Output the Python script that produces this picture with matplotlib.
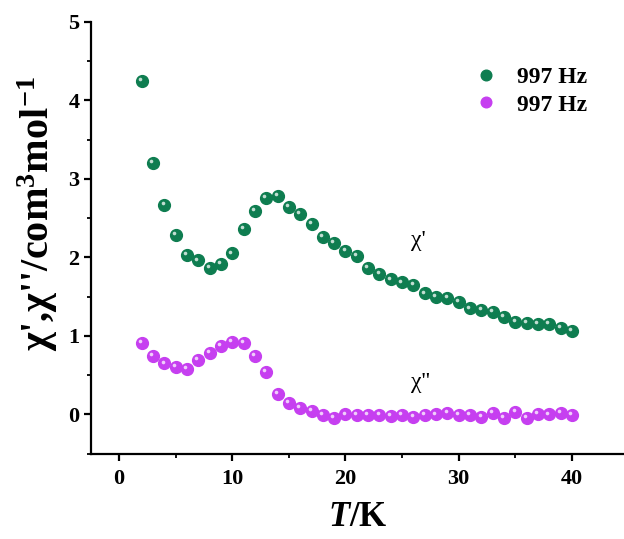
import numpy as np
import matplotlib
matplotlib.use('Agg')
import matplotlib.pyplot as plt
from matplotlib.ticker import MultipleLocator
from matplotlib.transforms import offset_copy

plt.rcParams['font.family'] = ['Liberation Serif', 'DejaVu Serif']
plt.rcParams['font.weight'] = 'bold'
plt.rcParams['axes.labelweight'] = 'bold'
plt.rcParams['mathtext.fontset'] = 'custom'
plt.rcParams['mathtext.rm'] = 'Liberation Serif:bold'
plt.rcParams['mathtext.it'] = 'Liberation Serif:italic:bold'
plt.rcParams['mathtext.bf'] = 'Liberation Serif:bold'

# temperature (K)
T = list(range(2, 41))

# chi' (in-phase)
chi1 = [4.25, 3.20, 2.67, 2.29, 2.03, 1.96, 1.87, 1.92, 2.05, 2.36,
        2.59, 2.76, 2.78, 2.64, 2.55, 2.43, 2.26, 2.18, 2.08, 2.02,
        1.87, 1.79, 1.72, 1.68, 1.65, 1.54, 1.50, 1.48, 1.43, 1.35,
        1.33, 1.31, 1.24, 1.18, 1.16, 1.15, 1.15, 1.10, 1.06]

# chi'' (out-of-phase)
chi2 = [0.91, 0.75, 0.65, 0.60, 0.58, 0.69, 0.78, 0.87, 0.92, 0.91,
        0.74, 0.54, 0.26, 0.15, 0.08, 0.04, -0.01, -0.04, 0.00, -0.01,
        -0.01, -0.01, -0.02, -0.01, -0.03, -0.01, 0.00, 0.02, -0.01, -0.01,
        -0.03, 0.02, -0.04, 0.03, -0.04, 0.01, 0.00, 0.02, -0.01]

green = '#0e7d50'
magenta = '#c63ff0'

fig = plt.figure(figsize=(6.24, 5.39), dpi=100)
ax = fig.add_axes([0.1454, 0.1583, 0.8546, 0.8014])

ax.plot(T, chi1, 'o', color=green, ms=8.5, mec=green, label='997 Hz', zorder=3)
ax.plot(T, chi2, 'o', color=magenta, ms=8.5, mec=magenta, label='997 Hz', zorder=3)

# little shine on each ball
shine = offset_copy(ax.transData, fig=fig, x=-1.3, y=1.3, units='points')
ax.plot(T, chi1, 'o', color='white', ms=2.6, mew=0, alpha=0.75, transform=shine, zorder=4)
ax.plot(T, chi2, 'o', color='white', ms=2.6, mew=0, alpha=0.75, transform=shine, zorder=4)

ax.set_xlim(-2.5, 44.6)
ax.set_ylim(-0.5, 5)
ax.xaxis.set_major_locator(MultipleLocator(10))
ax.xaxis.set_minor_locator(MultipleLocator(5))
ax.yaxis.set_major_locator(MultipleLocator(1))
ax.yaxis.set_minor_locator(MultipleLocator(0.5))

ax.spines['top'].set_visible(False)
ax.spines['right'].set_visible(False)
ax.spines['left'].set_linewidth(1.6)
ax.spines['bottom'].set_linewidth(1.6)
ax.tick_params(which='major', direction='out', length=5, width=1.6, labelsize=16)
ax.tick_params(axis='x', which='major', pad=6)
ax.tick_params(axis='y', which='major', pad=3)
ax.tick_params(which='minor', direction='out', length=3, width=1.3)
for lab in ax.get_xticklabels() + ax.get_yticklabels():
    lab.set_fontweight('bold')

ax.set_xlabel('$\\mathit{T}$/K', fontsize=25, fontweight='bold', labelpad=9)
ax.set_ylabel("χ',χ''/com$^{\\mathbf{3}}$mol$^{\\mathbf{-1}}$", fontsize=29,
              fontweight='bold')
ax.yaxis.set_label_coords(-0.058, 0.555)

ax.text(26.4, 2.22, "χ'", fontsize=17, fontweight='normal', ha='center', va='center')
ax.text(26.6, 0.40, "χ''", fontsize=17, fontweight='normal', ha='center', va='center')

leg = ax.legend(loc='upper right', bbox_to_anchor=(0.97, 0.945), frameon=False,
                fontsize=17, handletextpad=0.3, labelspacing=0.25, markerscale=0.9)
for t in leg.get_texts():
    t.set_fontweight('bold')

fig.savefig('out.png', dpi=100)
